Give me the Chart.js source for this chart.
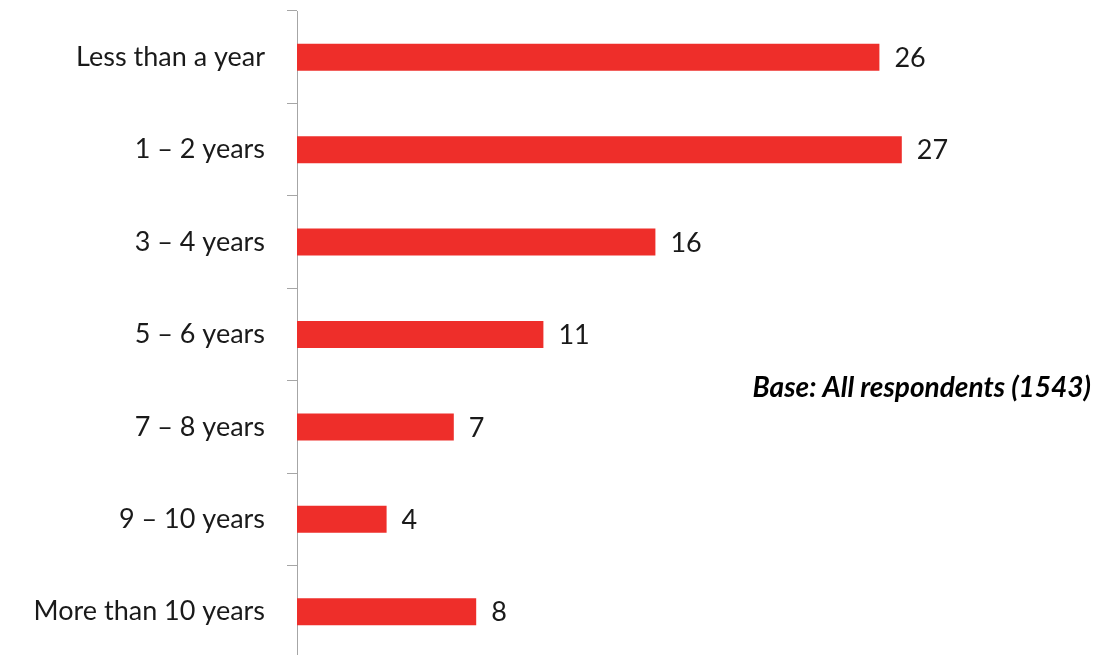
<!DOCTYPE html>
<html>
<head>
<meta charset="utf-8">
<script src="https://cdn.jsdelivr.net/npm/chart.js@4"></script>
<style>
  html, body { margin: 0; padding: 0; background: #fff; overflow: hidden; }
  #wrap { position: relative; width: 1097px; height: 660px; }
</style>
</head>
<body>
<div id="wrap"><canvas id="chart"></canvas></div>
<script>
// years of service, share of respondents (%)
const categories = ['Less than a year', '1 \u2013 2 years', '3 \u2013 4 years', '5 \u2013 6 years',
                    '7 \u2013 8 years', '9 \u2013 10 years', 'More than 10 years'];
const values = [26, 27, 16, 11, 7, 4, 8];
const baseNote = 'Base: All respondents (1543)';

const barColor = '#ee2e2a';
const textColor = '#1a1a1a';
const fontFamily = 'Lato, "Open Sans", sans-serif';

// value next to the end of each bar
const valueLabels = {
    id: 'valueLabels',
    afterDatasetsDraw(chart) {
        const ctx = chart.ctx;
        const meta = chart.getDatasetMeta(0);
        ctx.save();
        ctx.font = '27px ' + fontFamily;
        ctx.fillStyle = textColor;
        ctx.textAlign = 'left';
        ctx.textBaseline = 'middle';
        meta.data.forEach((bar, i) => {
            ctx.fillText(String(values[i]), bar.x + 15, bar.y + 1);
        });
        ctx.restore();
    }
};

// base note on the right
const noteText = {
    id: 'noteText',
    afterDraw(chart) {
        const ctx = chart.ctx;
        ctx.save();
        ctx.font = 'italic bold 28px ' + fontFamily;
        ctx.fillStyle = '#000';
        ctx.textAlign = 'right';
        ctx.textBaseline = 'middle';
        ctx.fillText(baseNote, 1091, 388);
        ctx.restore();
    }
};

const ctx = document.getElementById('chart').getContext('2d');
new Chart(ctx, {
    type: 'bar',
    data: {
        labels: categories,
        datasets: [{
            data: values,
            backgroundColor: barColor,
            borderWidth: 0,
            categoryPercentage: 1,
            barPercentage: 0.292
        }]
    },
    options: {
        indexAxis: 'y',
        responsive: true,
        maintainAspectRatio: false,
        animation: false,
        layout: { padding: { top: 11, right: 128, bottom: 2, left: 0 } },
        scales: {
            x: {
                display: false,
                min: 0,
                max: 30
            },
            y: {
                afterFit(scale) {
                    scale.width = 297;
                    // no extra room for half label heights at the ends
                    scale.paddingTop = 0;
                    scale.paddingBottom = 0;
                },
                border: { display: true, color: '#a6a6a6', width: 1 },
                grid: {
                    drawOnChartArea: false,
                    drawTicks: true,
                    tickLength: 10,
                    color: '#a6a6a6',
                    offset: true
                },
                ticks: {
                    color: textColor,
                    padding: 22,
                    font: { family: fontFamily, size: 27 }
                }
            }
        },
        plugins: {
            legend: { display: false },
            tooltip: { enabled: false }
        }
    },
    plugins: [valueLabels, noteText]
});
</script>
</body>
</html>
